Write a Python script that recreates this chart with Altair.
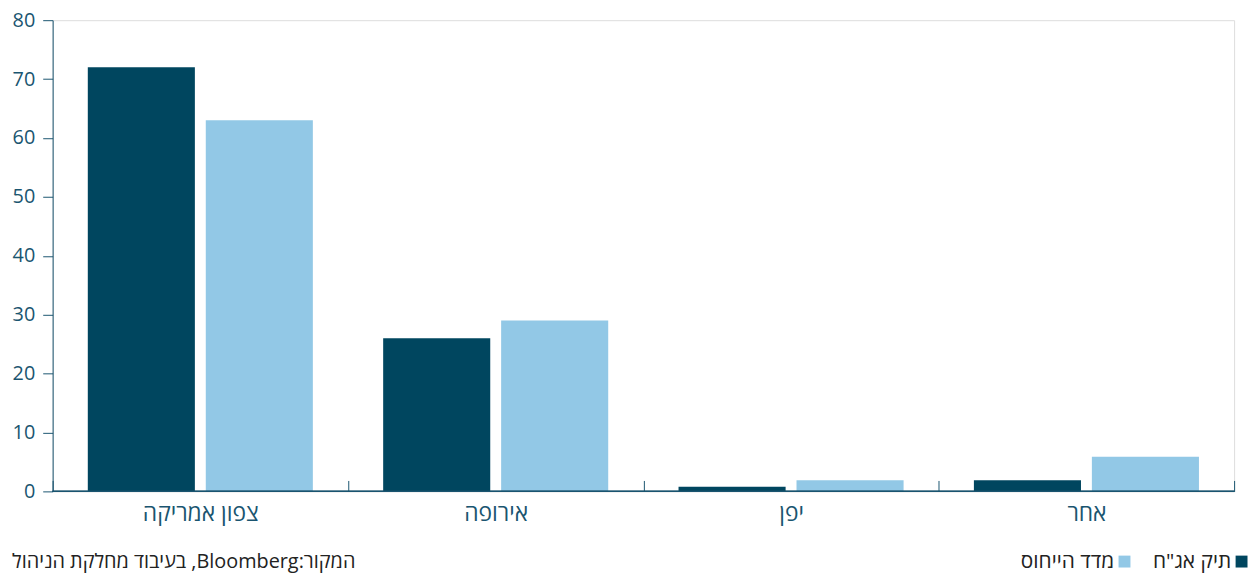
import altair as alt
import pandas as pd

regions = ["צפון אמריקה", "אירופה", "יפן", "אחר"]
portfolio = [72, 26, 0.8, 1.9]
benchmark = [63, 29, 1.9, 5.9]
series_names = ['תיק אג"ח', "מדד הייחוס"]
y_ticks = [0, 10, 20, 30, 40, 50, 60, 70, 80]
# written so the rendered word order matches the reference (source first at left)
source_text = "בעיבוד מחלקת הניהול ,Bloomberg:המקור"

rows = []
for r, a, b in zip(regions, portfolio, benchmark):
    rows.append({"region": r, "series": series_names[0], "value": a})
    rows.append({"region": r, "series": series_names[1], "value": b})
df = pd.DataFrame(rows)

DARK = "#00465f"
LIGHT = "#92c8e6"
AXIS = "#1a5570"
FONT = "Open Sans, Liberation Sans, DejaVu Sans, sans-serif"

bars = alt.Chart(df).mark_bar().encode(
    x=alt.X(
        "region:N",
        sort=regions,
        scale=alt.Scale(paddingInner=0, paddingOuter=0),
        axis=alt.Axis(
            title=None,
            labelAngle=0,
            domain=False,
            tickBand="extent",
            tickSize=11,
            offset=-11,
            tickColor=AXIS,
            labelColor=AXIS,
            labelFontSize=23,
            labelFont=FONT,
            labelPadding=11,
        ),
    ),
    xOffset=alt.XOffset(
        "series:N",
        sort=series_names,
        scale=alt.Scale(paddingInner=0.0924, paddingOuter=0.298),
    ),
    y=alt.Y(
        "value:Q",
        scale=alt.Scale(domain=[0, 80]),
        axis=alt.Axis(
            title=None,
            values=y_ticks,
            grid=False,
            domainColor=AXIS,
            tickColor=AXIS,
            tickSize=10,
            labelColor=AXIS,
            labelFontSize=20,
            labelFont=FONT,
            labelPadding=8,
        ),
    ),
    color=alt.Color(
        "series:N",
        scale=alt.Scale(domain=[series_names[1], series_names[0]], range=[LIGHT, DARK]),
        legend=alt.Legend(
            title=None,
            orient="none",
            legendX=1070,
            legendY=535,
            direction="horizontal",
            symbolType="square",
            symbolSize=144,
            symbolStrokeWidth=0,
            symbolOpacity=1,
            labelAlign="right",
            labelOffset=alt.ExprRef("-21"),
            labelFontSize=21,
            labelFont=FONT,
            labelColor="#222222",
            columnPadding=22,
        ),
    ),
)

baseline = alt.Chart(df).mark_rule(color=AXIS, strokeWidth=1).encode(y=alt.datum(0))

chart = alt.layer(bars, baseline).properties(
    width=1191,
    height=475,
    title=alt.Title(
        source_text,
        orient="bottom",
        anchor="start",
        frame="bounds",
        fontSize=20,
        fontWeight="normal",
        font=FONT,
        color="#222222",
        offset=alt.ExprRef("-20"),
    ),
).configure_view(stroke=None).configure(
    padding={"left": 4, "top": 0, "right": 0, "bottom": 0}
)

chart.save("out.html", embed_options={"renderer": "svg", "actions": False})
